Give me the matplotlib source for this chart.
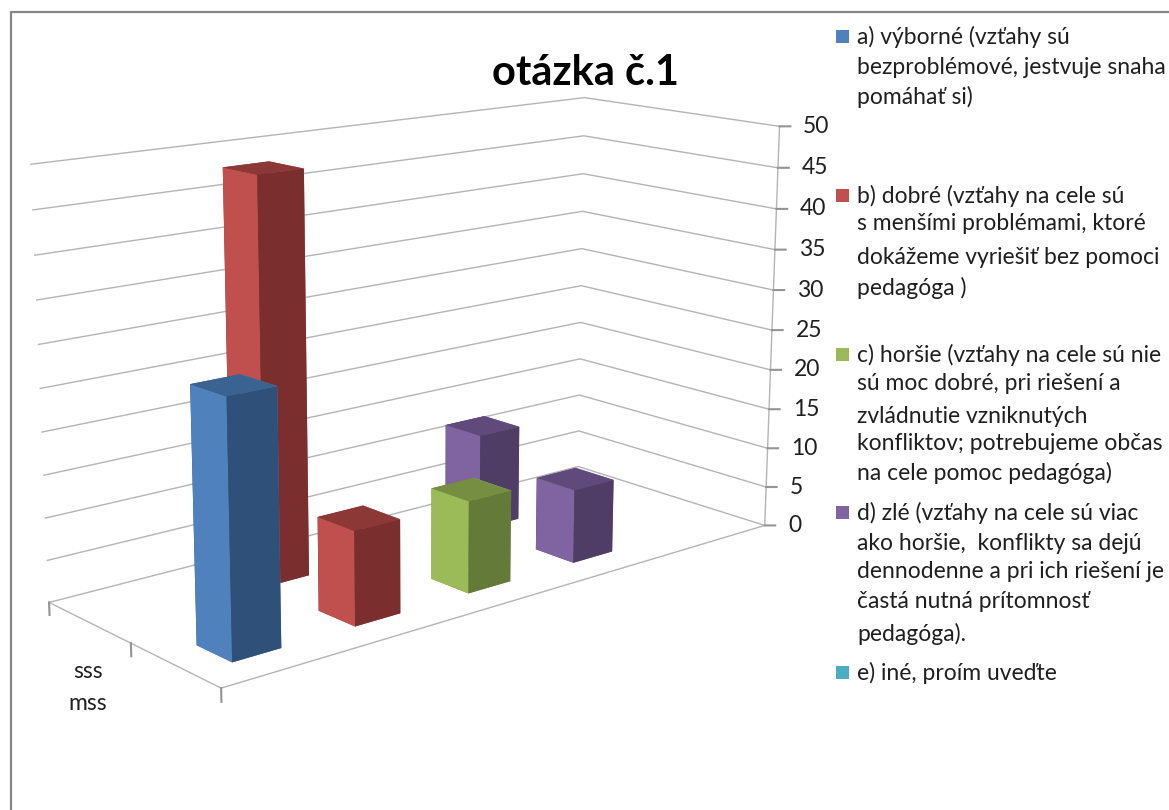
import matplotlib
matplotlib.use('Agg')
from matplotlib import pyplot as plt
from matplotlib.lines import Line2D
from matplotlib.patches import Rectangle
from mpl_toolkits.mplot3d import proj3d

W, H = 1169, 810
plt.rcParams['font.family'] = ['Lato', 'DejaVu Sans']

categories = ['sss', 'mss']
series_a = [0, 29]
series_b = [48, 11]
series_c = [0, 11]
series_d = [12, 9]
series_e = [0, 0]
z_ticks = [0, 5, 10, 15, 20, 25, 30, 35, 40, 45, 50]

fig = plt.figure(figsize=(W / 100, H / 100), dpi=100)
ax = fig.add_axes([0, 0, 1, 1], projection='3d')
ax.set_xlim(0, 5)
ax.set_ylim(0, 2)
ax.set_zlim(0, 50)

# camera fitted against the corners of the reference
ax.view_init(elev=14.016, azim=-130.219)
ax.set_proj_type('persp', focal_length=0.433)
ax.set_box_aspect((1, 0.404, 0.604), zoom=0.855)
S, cx, cy = 1000, 410.802, 371.343
ax.set_position([(cx - S / 2) / W, 1 - (cy + S / 2) / H, S / W, S / H])
ax.apply_aspect()
ax.set_axis_off()
ax.patch.set_alpha(0)
ax.computed_zorder = False

GRID = '#b4b4b4'
TICK = '#949494'
TEXT = '#1f1f1f'
for z in z_ticks:
    ax.plot([0, 5, 5], [2, 2, 0], [z, z, z], color=GRID, lw=1, zorder=1)
ax.plot([0, 0, 5], [2, 0, 0], [0, 0, 0], color=GRID, lw=1, zorder=1)
ax.plot([5, 5], [0, 0], [0, 50], color=GRID, lw=1, zorder=1)
for j in range(3):
    ax.plot([0, 0], [j, j], [0, -1.5], color=TICK, lw=1.5, zorder=1)

M = ax.get_proj()
for z in z_ticks:
    ax.plot([5, 5.06], [0, -0.05], [z, z], color=TICK, lw=1.5, zorder=1)
    u, v, _ = proj3d.proj_transform(5, 0, z, M)
    ax.annotate(str(z), xy=(u, v), xytext=(17, 0), textcoords='offset points',
                ha='left', va='center', fontsize=16.5, color=TEXT)

# left face, right face, top colours for each series
colours = {
    'a': ('#4f81bd', '#2f5179', '#3b6391'),
    'b': ('#c0504d', '#7a2f2e', '#8c3836'),
    'c': ('#9bbb59', '#647a39', '#758e41'),
    'd': ('#8064a2', '#4f3d66', '#604a7b'),
    'e': ('#4bacc6', '#2f7186', '#3c8a9f'),
}
series = {'a': series_a, 'b': series_b, 'c': series_c, 'd': series_d, 'e': series_e}
BAR, OFF = 0.39, 0.305
order = 10
for j in (1, 0):
    row = 0 if j == 1 else 1
    for i in range(4, -1, -1):
        name = 'abcde'[i]
        val = series[name][row]
        if val == 0:
            continue
        left, right, top = colours[name]
        ax.bar3d(i + OFF, j + OFF, 0, BAR, BAR, val,
                 color=[top, top, right, right, left, left], shade=False, zorder=order, linewidth=0)
        order += 1


def fx(px):
    return px / W


def fy(py):
    return 1 - py / H


fig.add_artist(Line2D([fx(11), fx(11), 1], [0, fy(12), fy(12)], color='#868686', lw=1.6))
fig.text(fx(586), fy(73), 'otázka č.1', fontsize=30, fontweight='bold', ha='center', va='center', color='black')
fig.text(fx(88), fy(672), categories[0], fontsize=16.5, ha='center', va='center', color=TEXT)
fig.text(fx(88), fy(703), categories[1], fontsize=16.5, ha='center', va='center', color=TEXT)

legend_lines = [
    ('a) výborné (vzťahy sú', 37), ('bezproblémové, jestvuje snaha', 67), ('pomáhať si)', 97),
    ('b) dobré (vzťahy na cele sú', 196), ('s menšími problémami, ktoré', 224),
    ('dokážeme vyriešiť bez pomoci', 257), ('pedagóga )', 288),
    ('c) horšie (vzťahy na cele sú nie', 355), ('sú moc dobré, pri riešení a', 384),
    ('zvládnutie vzniknutých', 416), ('konfliktov; potrebujeme občas', 444),
    ('na cele pomoc pedagóga)', 473),
    ('d) zlé (vzťahy na cele sú viac', 513), ('ako horšie,  konflikty sa dejú', 543),
    ('dennodenne a pri ich riešení je', 571), ('častá nutná prítomnosť', 601), ('pedagóga).', 634),
    ('e) iné, proím uveďte', 673),
]
legend_marks = [('#4f81bd', 37), ('#c0504d', 196), ('#9bbb59', 355), ('#8064a2', 513), ('#4bacc6', 673)]
for line, y in legend_lines:
    fig.text(fx(857), fy(y), line, fontsize=16.5, ha='left', va='center', color=TEXT)
for colour, y in legend_marks:
    fig.add_artist(Rectangle((fx(836), fy(y + 6)), 13 / W, 13 / H, transform=fig.transFigure,
                             facecolor=colour, edgecolor='none'))

fig.savefig('out.png', dpi=100)
